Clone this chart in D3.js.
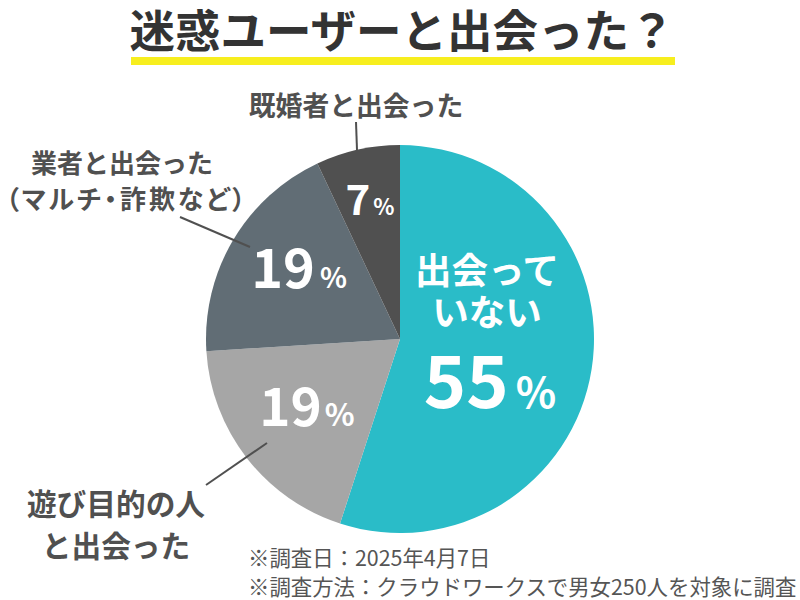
<!DOCTYPE html>
<html>
<head>
<meta charset="utf-8">
<script src="https://cdn.jsdelivr.net/npm/d3@7"></script>
<style>
  html, body { margin: 0; padding: 0; background: #fff; }
  text { font-family: "Noto Sans CJK JP", "Noto Sans", sans-serif; }
</style>
</head>
<body>
<div id="chart"></div>
<script>
const categories = ['出会っていない', '遊び目的の人と出会った', '業者と出会った（マルチ・詐欺など）', '既婚者と出会った'];
const values = [55, 19, 19, 7];
const colors = ['#2abcc8', '#a6a6a6', '#616d75', '#505050'];
const titleText = '迷惑ユーザーと出会った？';
const notes = ['※調査日：2025年4月7日', '※調査方法：クラウドワークスで男女250人を対象に調査'];

const width = 800, height = 600;
const cx = 400, cy = 339, radius = 194;

const svg = d3.select('#chart').append('svg')
    .attr('width', width)
    .attr('height', height)
    .attr('viewBox', `0 0 ${width} ${height}`)
    .style('display', 'block');

// Title
svg.append('text')
    .text(titleText)
    .attr('x', 402)
    .attr('y', 48)
    .attr('text-anchor', 'middle')
    .attr('fill', '#333')
    .style('font-size', '45.5px')
    .style('font-weight', 700);

svg.append('rect')
    .attr('x', 131).attr('y', 57)
    .attr('width', 544).attr('height', 8)
    .attr('fill', '#f7ee1e');

// Pie
const pie = d3.pie().sort(null).value(d => d);
const arc = d3.arc().innerRadius(0).outerRadius(radius);
const arcs = pie(values);

svg.append('g')
    .attr('transform', `translate(${cx},${cy})`)
    .selectAll('path')
    .data(arcs)
    .join('path')
    .attr('d', arc)
    .attr('fill', (d, i) => colors[i]);

// Labels in slices: number plus smaller %
function valueLabel(x, y, i, size, pctSize, gap) {
  const t = svg.append('text')
      .attr('x', x).attr('y', y)
      .attr('text-anchor', 'middle')
      .attr('fill', '#fff')
      .style('font-weight', 700);
  t.append('tspan').text(values[i]).style('font-size', size + 'px');
  t.append('tspan').text('%').attr('dx', gap).style('font-size', pctSize + 'px');
}
valueLabel(490, 408, 0, 72, 42, 7);
valueLabel(307, 426, 1, 53, 31, 3);
valueLabel(299, 288, 2, 54, 28, 5);
valueLabel(370, 215, 3, 42, 22, 3);

// Multi-line label, one text element with a tspan per line
function label(lines, x, y, step, size, fill) {
  const t = svg.append('text')
      .attr('text-anchor', 'middle')
      .attr('fill', fill)
      .style('font-size', size + 'px')
      .style('font-weight', 700);
  lines.forEach((s, i) => {
    t.append('tspan')
        .text(s)
        .attr('x', x)
        .attr('y', y + i * step);
  });
  return t;
}

label(['出会って', 'いない'], 487, 284, 42, 36.5, '#fff');
label(['既婚者と出会った'], 356, 116, 0, 26.8, '#505050');
label(['業者と出会った'], 122, 173, 0, 26, '#505050');
// palt keeps the wide brackets inside the left edge
label(['（マルチ・詐欺など）'], 127, 209, 0, 26, '#505050')
    .style('font-feature-settings', '"palt"')
    .style('letter-spacing', '2.9px');
label(['遊び目的の人', 'と出会った'], 116, 515, 42, 29.7, '#505050');

// Leader lines
const leaders = [[180, 217, 250, 247], [206, 485, 267, 443], [356, 122, 357, 150]];
svg.selectAll('line.leader')
    .data(leaders)
    .join('line')
    .attr('class', 'leader')
    .attr('x1', d => d[0]).attr('y1', d => d[1])
    .attr('x2', d => d[2]).attr('y2', d => d[3])
    .attr('stroke', '#505050')
    .attr('stroke-width', 2);

// Notes
notes.forEach((s, i) => {
  svg.append('text')
      .text(s)
      .attr('x', 248)
      .attr('y', 566 + i * 29)
      .attr('fill', '#555')
      .style('font-size', '21.4px');
});
</script>
</body>
</html>
